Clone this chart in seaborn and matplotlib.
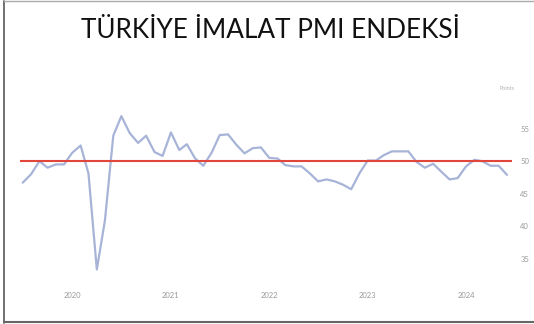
import matplotlib
matplotlib.use("Agg")
import matplotlib.pyplot as plt
import seaborn as sns
import pandas as pd
from matplotlib.lines import Line2D

start_month = "2019-07-01"
pmi_values = [
    46.7, 48.0, 50.0, 49.0, 49.5, 49.5,                                  # 2019 Jul-Dec
    51.3, 52.4, 48.1, 33.4, 40.9, 53.9, 56.9, 54.3, 52.8, 53.9, 51.4, 50.8,  # 2020
    54.4, 51.7, 52.6, 50.4, 49.3, 51.3, 54.0, 54.1, 52.5, 51.2, 52.0, 52.1,  # 2021
    50.5, 50.4, 49.4, 49.2, 49.2, 48.1, 46.9, 47.2, 46.9, 46.4, 45.7, 48.1,  # 2022
    50.1, 50.1, 50.9, 51.5, 51.5, 51.5, 49.9, 49.0, 49.6, 48.4, 47.2, 47.4,  # 2023
    49.2, 50.2, 50.0, 49.3, 49.3, 47.9,                                  # 2024
]
threshold = 50
y_ticks = [35, 40, 45, 50, 55]
year_labels = ["2020", "2021", "2022", "2023", "2024"]
title = "TÜRKİYE İMALAT PMI ENDEKSİ"
unit_label = "Points"

dates = pd.date_range(start_month, periods=len(pmi_values), freq="MS")
df = pd.DataFrame({"date": dates, "pmi": pmi_values})

sns.set_theme(style="white")
plt.rcParams["font.family"] = ["Lato", "DejaVu Sans"]

fig = plt.figure(figsize=(5.34, 3.24), dpi=100)
fig.patch.set_facecolor("white")

# slide frame (left, top, bottom edges)
W, H = 534.0, 324.0
fig.add_artist(Line2D([3.5 / W, 3.5 / W], [1.5 / H, 1 - 0.5 / H], transform=fig.transFigure,
                      color="#666666", linewidth=1.3))
fig.add_artist(Line2D([3.5 / W, 1.0], [1.8 / H, 1.8 / H], transform=fig.transFigure,
                      color="#666666", linewidth=1.5))
fig.add_artist(Line2D([3.5 / W, 1.0], [1 - 0.6 / H, 1 - 0.6 / H], transform=fig.transFigure,
                      color="#aaaaaa", linewidth=1.0))

fig.text(0.506, 0.905, title, ha="center", va="center", fontsize=18.8,
         color="#111111", family=["Lato", "DejaVu Sans"])

ax = fig.add_axes([0.037, 0.130, 0.922, 0.574])
sns.lineplot(data=df, x="date", y="pmi", ax=ax, color="#a7b4d8", linewidth=1.6)
ax.axhline(threshold, color="#e2453a", linewidth=1.5, zorder=3)

ax.set_xlim(pd.Timestamp("2019-06-20"), pd.Timestamp("2024-06-20"))
ax.set_ylim(31.5, 60)
ax.yaxis.tick_right()
ax.set_yticks(y_ticks)
ax.set_yticklabels([str(t) for t in y_ticks])
ax.set_xticks([pd.Timestamp(f"{y}-01-01") for y in year_labels])
ax.set_xticklabels(year_labels)
ax.tick_params(axis="y", labelsize=5.5, colors="#9a9a9a", length=0, pad=6)
ax.tick_params(axis="x", labelsize=5.5, colors="#9a9a9a", length=0, pad=7)
ax.set_xlabel("")
ax.set_ylabel("")
for s in ax.spines.values():
    s.set_visible(False)
ax.grid(False)
ax.text(0.99, 1.025, unit_label, transform=ax.transAxes, fontsize=4,
        color="#b0b0b0", ha="center", va="bottom")

fig.savefig("out.png", dpi=100, facecolor="white")
